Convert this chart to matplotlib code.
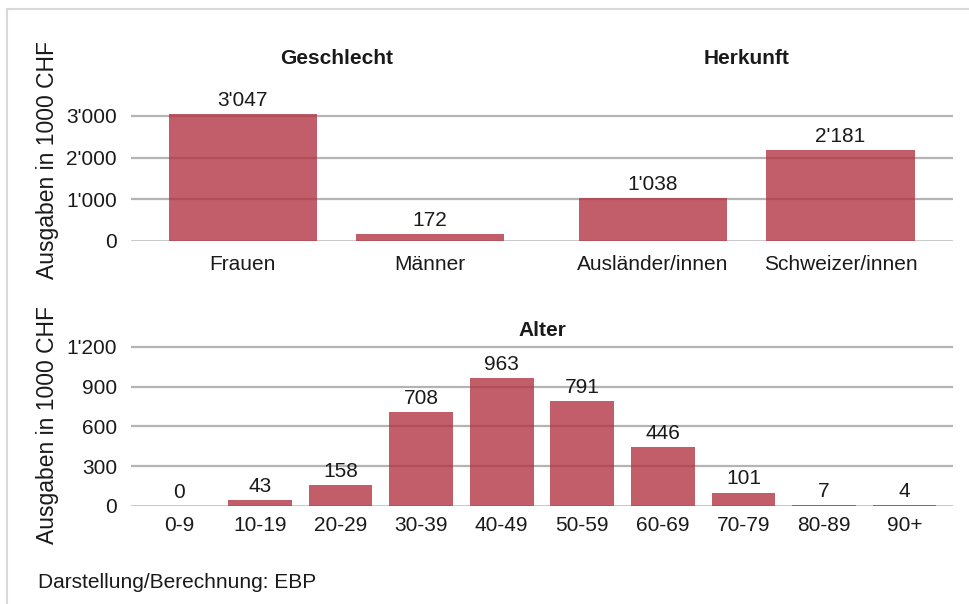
import matplotlib.pyplot as plt
from matplotlib.lines import Line2D

plt.rcParams['font.family'] = ['Liberation Sans', 'DejaVu Sans']
plt.rcParams['font.size'] = 15

# Ausgaben in 1000 CHF
geschlecht = ['Frauen', 'Männer']
geschlecht_werte = [3047, 172]
herkunft = ['Ausländer/innen', 'Schweizer/innen']
herkunft_werte = [1038, 2181]
alter = ['0-9', '10-19', '20-29', '30-39', '40-49', '50-59', '60-69', '70-79', '80-89', '90+']
alter_werte = [0, 43, 158, 708, 963, 791, 446, 101, 7, 4]

bar_color = '#b03140'
grid_color = '#b4b4b4'
text_color = '#1a1a1a'


def fmt(v):
    return '{:,}'.format(v).replace(',', "'")


def style_axis(ax, ticks, label_y):
    ax.set_yticks(ticks)
    ax.set_yticklabels([fmt(t) for t in ticks])
    ax.set_axisbelow(True)
    ax.yaxis.grid(True, color=grid_color, lw=1.6)
    ax.get_ygridlines()[0].set_color('#c0c0c0')
    ax.get_ygridlines()[0].set_linewidth(1.2)
    for s in ax.spines.values():
        s.set_visible(False)
    ax.tick_params(axis='both', length=0, labelsize=15, colors=text_color)
    ax.tick_params(axis='y', pad=10)
    ax.set_ylabel('Ausgaben in 1000 CHF', fontsize=16.5, color=text_color)
    ax.yaxis.set_label_coords(-0.087, label_y)


def label_bars(ax, xs, vals):
    for x, v in zip(xs, vals):
        ax.annotate(fmt(v), (x, v), xytext=(0, 3), textcoords='offset points',
                    ha='center', va='bottom', fontsize=15, color=text_color)


fig = plt.figure(figsize=(9.69, 6.04), dpi=100)

# oberer Teil: Geschlecht und Herkunft
ax1 = fig.add_axes([0.1352, 0.601, 0.8483, 0.2139])
pos_g = [0, 1]
pos_h = [2.19, 3.19]
ax1.bar(pos_g + pos_h, geschlecht_werte + herkunft_werte, width=0.79,
        color=bar_color, alpha=0.78)
ax1.set_xticks(pos_g + pos_h)
ax1.set_xticklabels(geschlecht + herkunft)
ax1.tick_params(axis='x', pad=10)
ax1.set_xlim(-0.595, 3.79)
ax1.set_ylim(0, 3100)
style_axis(ax1, [0, 1000, 2000, 3000], 0.627)
label_bars(ax1, pos_g + pos_h, geschlecht_werte + herkunft_werte)
ax1.text(sum(pos_g) / 2, 4370, 'Geschlecht', ha='center', va='center',
         fontsize=15, fontweight='bold', color=text_color)
ax1.text(sum(pos_h) / 2, 4370, 'Herkunft', ha='center', va='center',
         fontsize=15, fontweight='bold', color=text_color)

# unterer Teil: Alter
ax2 = fig.add_axes([0.1352, 0.1623, 0.8483, 0.2742])
pos_a = list(range(len(alter)))
ax2.bar(pos_a, alter_werte, width=0.79, color=bar_color, alpha=0.78)
ax2.set_xticks(pos_a)
ax2.set_xticklabels(alter)
ax2.tick_params(axis='x', pad=7)
ax2.set_xlim(-0.6, 9.6)
ax2.set_ylim(0, 1250)
style_axis(ax2, [0, 300, 600, 900, 1200], 0.489)
label_bars(ax2, pos_a, alter_werte)
ax2.text((pos_a[0] + pos_a[-1]) / 2, 1328, 'Alter', ha='center', va='center',
         fontsize=15, fontweight='bold', color=text_color)

fig.text(0.039, 1 - 583 / 604, 'Darstellung/Berechnung: EBP', ha='left', va='center',
         fontsize=15, color=text_color)

# Rahmen oben und links
fig.add_artist(Line2D([7 / 969, 1], [1 - 9 / 604] * 2, color='#d9d9d9', lw=1.5))
fig.add_artist(Line2D([7 / 969] * 2, [0, 1 - 9 / 604], color='#d9d9d9', lw=1.5))

fig.savefig('out.png', dpi=100)
